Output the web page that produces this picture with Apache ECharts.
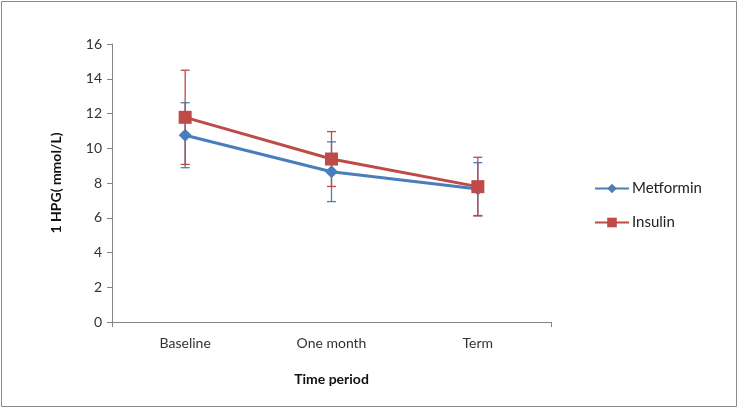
<!DOCTYPE html>
<html>
<head>
<meta charset="utf-8">
<script src="https://cdn.jsdelivr.net/npm/echarts@6/dist/echarts.min.js"></script>
<style>html,body{margin:0;padding:0;background:#fff}#c{width:740px;height:410px}</style>
</head>
<body>
<div id="c"></div>
<script>
var categories = ['Baseline', 'One month', 'Term'];
var yTicks = [0, 2, 4, 6, 8, 10, 12, 14, 16];
var metformin = [10.75, 8.65, 7.65];
var metforminSD = [1.87, 1.72, 1.52];
var insulin = [11.78, 9.38, 7.79];
var insulinSD = [2.71, 1.58, 1.69];

var BLUE = '#4a7ebb';
var RED = '#be4b48';
var FONT = 'Lato, "Open Sans", sans-serif';

function errData(vals, sds) {
  return vals.map(function (v, i) { return [i, v - sds[i], v + sds[i]]; });
}
function errRender(color) {
  return function (params, api) {
    var lo = api.coord([api.value(0), api.value(1)]);
    var hi = api.coord([api.value(0), api.value(2)]);
    var w = 4.5;
    var st = { stroke: color, lineWidth: 1.3 };
    return {
      type: 'group',
      children: [
        { type: 'line', shape: { x1: hi[0], y1: hi[1], x2: lo[0], y2: lo[1] }, style: st },
        { type: 'line', shape: { x1: hi[0] - w, y1: hi[1], x2: hi[0] + w, y2: hi[1] }, style: st },
        { type: 'line', shape: { x1: lo[0] - w, y1: lo[1], x2: lo[0] + w, y2: lo[1] }, style: st }
      ]
    };
  };
}

var chart = echarts.init(document.getElementById('c'), null, { renderer: 'canvas' });
chart.setOption({
  animation: false,
  backgroundColor: '#fff',
  textStyle: { fontFamily: FONT },
  graphic: [{
    type: 'rect', shape: { x: 1.5, y: 1.5, width: 735, height: 405 },
    style: { fill: 'none', stroke: '#8a8a8a', lineWidth: 1 }, silent: true
  }],
  grid: { left: 112, right: 189, top: 44, bottom: 88 },
  legend: {
    orient: 'vertical', left: 589, top: 176, itemGap: 19,
    itemWidth: 34, itemHeight: 12, itemStyle: {},
    textStyle: { fontSize: 15, color: '#222', fontFamily: FONT, padding: [0, 0, 0, -2] },
    data: ['Metformin', 'Insulin']
  },
  xAxis: {
    type: 'category', data: categories, boundaryGap: true,
    name: 'Time period', nameLocation: 'middle', nameGap: 50,
    nameTextStyle: { fontWeight: 'bold', fontSize: 14, color: '#111', fontFamily: FONT },
    axisLine: { lineStyle: { color: '#868686', width: 1 } },
    axisTick: { show: true, length: 5, lineStyle: { color: '#868686' }, interval: function (i) { return i === 0; } },
    axisLabel: { fontSize: 14, color: '#333', margin: 14, fontFamily: FONT }
  },
  yAxis: {
    type: 'value', min: yTicks[0], max: yTicks[yTicks.length - 1], interval: 2,
    name: '1 HPG( mmol/L)', nameLocation: 'middle', nameGap: 49,
    nameTextStyle: { fontWeight: 'bold', fontSize: 14, color: '#111', fontFamily: FONT },
    axisLine: { show: true, lineStyle: { color: '#868686', width: 1 } },
    axisTick: { show: true, length: 5, lineStyle: { color: '#868686' } },
    splitLine: { show: false },
    axisLabel: { fontSize: 14, color: '#333', margin: 10, fontFamily: FONT }
  },
  series: [
    {
      type: 'custom', name: 'MetforminErr', data: errData(metformin, metforminSD),
      renderItem: errRender(BLUE), z: 1, silent: true,
      encode: { x: 0, y: [1, 2] }
    },
    {
      type: 'custom', name: 'InsulinErr', data: errData(insulin, insulinSD),
      renderItem: errRender(RED), z: 1, silent: true,
      encode: { x: 0, y: [1, 2] }
    },
    {
      type: 'line', name: 'Metformin', data: metformin, z: 3,
      symbol: 'diamond', symbolSize: 13, showAllSymbol: true,
      lineStyle: { color: BLUE, width: 3 },
      itemStyle: { color: BLUE }
    },
    {
      type: 'line', name: 'Insulin', data: insulin, z: 4,
      symbol: 'rect', symbolSize: 13, showAllSymbol: true,
      lineStyle: { color: RED, width: 3 },
      itemStyle: { color: RED }
    }
  ]
});
</script>
</body>
</html>
